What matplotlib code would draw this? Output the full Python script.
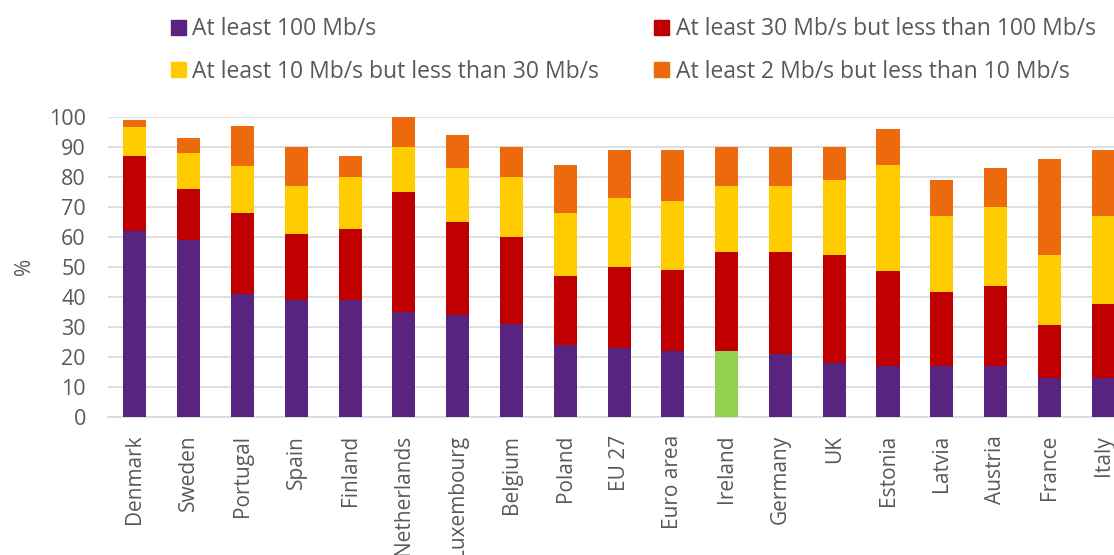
import numpy as np
import matplotlib.pyplot as plt
from matplotlib.patches import Patch

plt.rcParams['font.family'] = ['Open Sans', 'DejaVu Sans']

countries = ["Denmark", "Sweden", "Portugal", "Spain", "Finland", "Netherlands",
             "Luxembourg", "Belgium", "Poland", "EU 27", "Euro area", "Ireland",
             "Germany", "UK", "Estonia", "Latvia", "Austria", "France", "Italy"]

# shares of households by speed band (%)
over100 = [62, 59, 41, 39, 39, 35, 34, 31, 24, 23, 22, 22, 21, 18, 17, 17, 17, 13, 13]
s30_100 = [25, 17, 27, 22, 23.5, 40, 31, 29, 23, 27, 27, 33, 34, 36, 31.5, 24.5, 26.5, 17.5, 24.5]
s10_30 = [9.5, 12, 15.5, 16, 17.5, 15, 18, 20, 21, 23, 23, 22, 22, 25, 35.5, 25.5, 26.5, 23.5, 29.5]
s2_10 = [2.5, 5, 13.5, 13, 7, 10, 11, 10, 16, 16, 17, 13, 13, 11, 12, 12, 13, 32, 22]

labels = ["At least 100 Mb/s", "At least 30 Mb/s but less than 100 Mb/s",
          "At least 10 Mb/s but less than 30 Mb/s", "At least 2 Mb/s but less than 10 Mb/s"]
colors = ["#582480", "#C00000", "#FFCC00", "#EC6A0C"]
highlight = "Ireland"
green = "#92D050"
grey = "#595959"

fig = plt.figure(figsize=(11.14, 5.55), dpi=100)
ax = fig.add_axes([108/1114, 138.3/555, (1114-108)/1114, 300/555])

x = np.arange(len(countries))
w = 0.43
first_cols = [green if c == highlight else colors[0] for c in countries]
bottom = np.zeros(len(countries))
series = [over100, s30_100, s10_30, s2_10]
for i, vals in enumerate(series):
    vals = np.array(vals, dtype=float)
    col = first_cols if i == 0 else colors[i]
    ax.bar(x, vals, w, bottom=bottom, color=col, zorder=3)
    bottom += vals

ax.set_ylim(0, 100)
ax.set_xlim(-0.5, 18.2)
ax.set_yticks(np.arange(0, 101, 10))
ax.grid(axis='y', color='#d9d9d9', linewidth=1.2, zorder=0)
ax.set_axisbelow(True)
for s in ['top', 'right', 'left']:
    ax.spines[s].set_visible(False)
ax.spines['bottom'].set_color('#d9d9d9')
ax.spines['bottom'].set_linewidth(1.2)
ax.tick_params(length=0, colors=grey)
ax.tick_params(axis='y', pad=16, labelsize=15.5)
ax.tick_params(axis='x', pad=13, labelsize=15)
ax.set_xticks(x)
ax.set_xticklabels(countries, rotation=90, va='top')
ax.set_ylabel('%', fontsize=15, color=grey, labelpad=10)

handles = [Patch(color=colors[0]), Patch(color=colors[2]),
           Patch(color=colors[1]), Patch(color=colors[3])]
hl = [labels[0], labels[2], labels[1], labels[3]]
fig.legend(handles, hl, ncol=2, loc='upper left', bbox_to_anchor=(150/1114, 1.006),
           frameon=False, fontsize=16.5, labelcolor=grey, handlelength=0.65,
           handleheight=0.65, handletextpad=0.3, columnspacing=2.4, labelspacing=0.8)

fig.savefig('out.png', dpi=100)
